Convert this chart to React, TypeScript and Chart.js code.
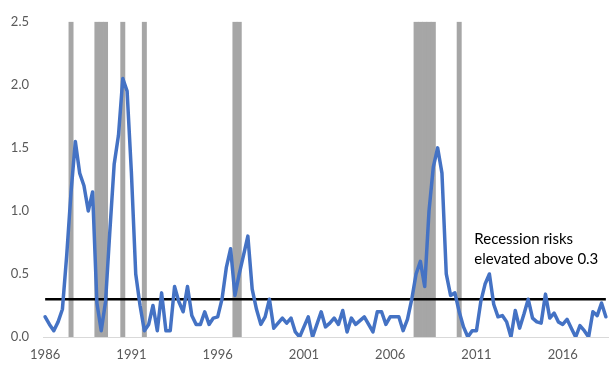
import React, { useEffect, useRef } from 'react';
import { Chart, registerables } from 'chart.js';

Chart.register(...registerables);

// Quarterly categories, 1986Q1 .. 2018Q3
const FIRST_YEAR = 1986;
const LAST_YEAR = 2018;
const LAST_QUARTER = 3;
const QUARTERS: string[] = [];
for (let y = FIRST_YEAR; y <= LAST_YEAR; y++) {
  for (let q = 1; q <= 4; q++) {
    if (y === LAST_YEAR && q > LAST_QUARTER) break;
    QUARTERS.push(`${y}Q${q}`);
  }
}

// Year labels shown on the x axis
const YEAR_TICKS = ['1986', '1991', '1996', '2001', '2006', '2011', '2016'];

// Recession-risk indicator
const RISK = [
  0.16, 0.10, 0.05, 0.12, 0.22, 0.65, 1.15, 1.55, 1.30, 1.20,
  1.00, 1.15, 0.27, 0.05, 0.28, 0.84, 1.37, 1.60, 2.05, 1.95,
  1.30, 0.50, 0.25, 0.05, 0.10, 0.25, 0.05, 0.35, 0.05, 0.05,
  0.40, 0.28, 0.20, 0.40, 0.17, 0.10, 0.10, 0.20, 0.10, 0.15,
  0.16, 0.30, 0.55, 0.70, 0.33, 0.50, 0.65, 0.80, 0.38, 0.22,
  0.10, 0.16, 0.30, 0.07, 0.11, 0.15, 0.11, 0.15, 0.04, 0.00,
  0.08, 0.16, 0.00, 0.10, 0.20, 0.08, 0.11, 0.15, 0.10, 0.21,
  0.04, 0.15, 0.10, 0.13, 0.16, 0.10, 0.04, 0.20, 0.20, 0.10,
  0.16, 0.16, 0.16, 0.05, 0.14, 0.30, 0.50, 0.60, 0.40, 1.00,
  1.35, 1.50, 1.30, 0.50, 0.33, 0.35, 0.20, 0.08, 0.00, 0.05,
  0.05, 0.28, 0.42, 0.50, 0.26, 0.16, 0.17, 0.12, 0.00, 0.21,
  0.07, 0.18, 0.30, 0.15, 0.12, 0.11, 0.34, 0.15, 0.19, 0.12,
  0.10, 0.14, 0.07, 0.00, 0.09, 0.05, 0.00, 0.20, 0.17, 0.27,
  0.16,
];

// Recession quarters (shaded bars)
const RECESSIONS = [
  '1987Q3',
  '1989Q1', '1989Q2', '1989Q3',
  '1990Q3',
  '1991Q4',
  '1997Q1', '1997Q2',
  '2007Q3', '2007Q4', '2008Q1', '2008Q2', '2008Q3',
  '2010Q1',
];

const THRESHOLD = 0.3;
const Y_MAX = 2.5;
const ANNOTATION_LINES = ['Recession risks', 'elevated above 0.3'];
const ANNOTATION_AT = '2011Q1';
const ANNOTATION_Y = [0.78, 0.62];

const FONT = 'Lato, "Open Sans", sans-serif';

export default function App() {
  const ref = useRef<HTMLCanvasElement | null>(null);

  useEffect(() => {
    document.body.style.margin = '0';
    const canvas = ref.current;
    if (!canvas) return;

    const annotationPlugin = {
      id: 'annot',
      afterDatasetsDraw(chart: any) {
        const { ctx, scales } = chart;
        const xs = scales.x;
        const ys = scales.y;
        const idx = QUARTERS.indexOf(ANNOTATION_AT);
        const half = (xs.getPixelForValue(1) - xs.getPixelForValue(0)) / 2;
        const x = xs.getPixelForValue(idx) - half;
        ctx.save();
        ctx.fillStyle = '#000000';
        ctx.font = `15px ${FONT}`;
        ctx.textAlign = 'left';
        ctx.textBaseline = 'middle';
        ANNOTATION_LINES.forEach((t, i) => {
          ctx.fillText(t, x, ys.getPixelForValue(ANNOTATION_Y[i]));
        });
        ctx.restore();
      },
    };

    const chart = new Chart(canvas, {
      type: 'bar',
      data: {
        labels: QUARTERS,
        datasets: [
          {
            type: 'line',
            label: 'Risk',
            data: RISK,
            borderColor: '#4472C4',
            borderWidth: 3.5,
            pointRadius: 0,
            borderJoinStyle: 'round',
            borderCapStyle: 'round',
            tension: 0,
            order: 0,
          } as any,
          {
            type: 'line',
            label: 'Threshold',
            data: QUARTERS.map(() => THRESHOLD),
            borderColor: '#000000',
            borderWidth: 2.5,
            pointRadius: 0,
            order: 1,
          } as any,
          {
            type: 'bar',
            label: 'Recession',
            data: QUARTERS.map((q) => (RECESSIONS.includes(q) ? Y_MAX : null)),
            backgroundColor: '#A6A6A6',
            borderWidth: 0,
            barPercentage: 1,
            categoryPercentage: 1,
            order: 2,
          } as any,
        ],
      },
      options: {
        animation: false,
        responsive: true,
        maintainAspectRatio: false,
        layout: { padding: { left: 0, right: 3, top: 18, bottom: 0 } },
        plugins: {
          legend: { display: false },
          tooltip: { enabled: false },
        },
        scales: {
          x: {
            type: 'category',
            offset: true,
            grid: { display: false, drawTicks: false, offset: true },
            border: { display: true, color: '#D9D9D9', width: 1 },
            ticks: {
              autoSkip: false,
              maxRotation: 0,
              minRotation: 0,
              padding: 10,
              color: '#595959',
              font: { family: FONT, size: 13 },
              callback: (_v: any, i: number) => {
                const q = QUARTERS[i];
                const yr = q.slice(0, 4);
                return q.endsWith('Q1') && YEAR_TICKS.includes(yr) ? yr : null;
              },
            },
            afterFit: (s: any) => {
              s.height = 28;
            },
          },
          y: {
            min: 0,
            max: Y_MAX,
            grid: { display: false, drawTicks: false },
            border: { display: false },
            ticks: {
              stepSize: 0.5,
              padding: 14,
              color: '#595959',
              font: { family: FONT, size: 13 },
              callback: (v: any) => Number(v).toFixed(1),
            },
            afterFit: (s: any) => {
              s.width = 43;
            },
          },
        },
      },
      plugins: [annotationPlugin],
    });

    return () => chart.destroy();
  }, []);

  return (
    <div style={{ width: 611, height: 365, position: 'relative' }}>
      <canvas ref={ref} />
    </div>
  );
}
